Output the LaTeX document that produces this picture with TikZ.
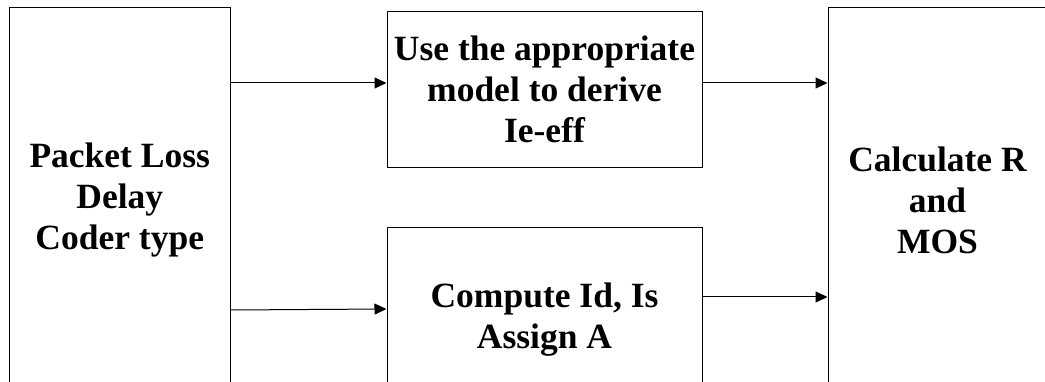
\documentclass[tikz,border=0pt]{standalone}
\usepackage{fontspec}
\setmainfont{Liberation Serif}
\usetikzlibrary{arrows.meta}
\tikzset{
  block/.style={draw=black, line width=1pt, rectangle, inner sep=0pt,
    align=center, font=\fontsize{35.5}{41}\selectfont\bfseries},
  arr/.style={draw=black, line width=1pt, -{Triangle[length=12pt,width=11pt]}}
}
\begin{document}
\begin{tikzpicture}[x=1pt,y=-1pt]
  \useasboundingbox (0,0) rectangle (1045,382);
  \clip (0,0) rectangle (1045,382);
  % input parameters
  \node[block, minimum width=220.5pt, minimum height=384pt] (inp) at (119.75,200)
    {Packet Loss\\Delay\\Coder type};
  % processing stages
  \node[block, minimum width=315pt, minimum height=156.5pt] (model) at (544.5,89.75)
    {Use the appropriate\\model to derive\\Ie-eff};
  \node[block, minimum width=315pt, minimum height=184pt] (comp) at (544.5,320)
    {Compute Id, Is\\Assign A};
  % result
  \node[block, minimum width=219pt, minimum height=384pt] (res) at (937.5,200)
    {Calculate R\\and\\MOS};
  % connectors
  \draw[arr] (inp.east |- 0,83) -- (model.west |- 0,83);
  \draw[arr] (inp.east |- 0,310) -- (comp.west |- 0,309);
  \draw[arr] (model.east |- 0,83) -- (res.west |- 0,83);
  \draw[arr] (comp.east |- 0,297) -- (res.west |- 0,297);
\end{tikzpicture}
\end{document}
